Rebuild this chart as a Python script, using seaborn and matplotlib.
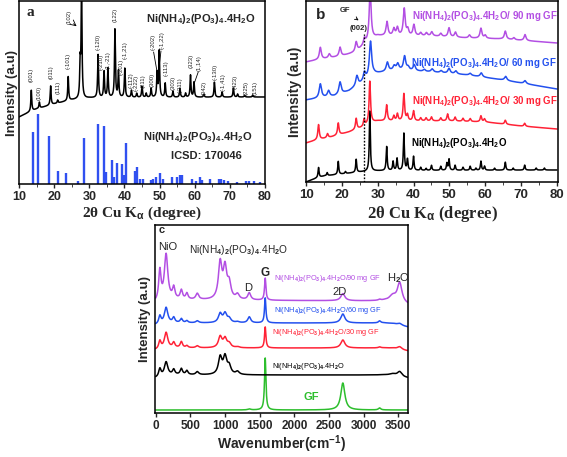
import numpy as np
import matplotlib
matplotlib.use("Agg")
import matplotlib.pyplot as plt
import seaborn as sns

# =====================================================
# DATA  (peak positions / heights)
# =====================================================

# ---- panel a : measured XRD pattern
a_base_x = [10, 13, 15, 18, 20, 25, 30, 40, 80]
a_base_y = [67, 72, 75, 78, 80, 84, 86, 86.5, 87]
a_pos = [13.5, 15.8, 19.0, 21.0, 24.0, 27.4, 27.8, 32.5, 34.2, 35.3, 37.3, 38.3, 40.1,
         42.0, 43.5, 45.0, 46.2, 47.6, 49.3, 49.9, 51.6, 53.8, 55.8, 57.4, 58.8, 59.8,
         62.6, 65.6, 67.8, 71.0, 72.2, 74.2, 76.5]
a_hgt = [21, 6, 19, 3, 24, 33, 110, 43, 26, 29, 68, 26, 29,
         7, 4, 11, 4, 9, 24, 46, 14, 6, 9, 4, 22, 15,
         3, 15, 5, 9, 3, 2, 2]

# ---- panel a : ICSD 170046 sticks
icsd_pos = [13.9, 15.5, 18.5, 21.2, 23.4, 26.9, 28.6, 32.6, 34.3, 34.7, 36.4, 37.0, 37.8,
            39.4, 39.8, 40.4, 43.0, 43.7, 44.5, 45.3, 47.5, 48.2, 49.0, 50.1, 51.0, 53.5,
            55.0, 55.8, 56.3, 59.2, 60.5, 61.5, 62.0, 64.3, 66.8, 67.4, 68.2, 69.5, 72.0,
            74.5, 75.5, 77.0, 78.5]
icsd_hgt = [52, 70, 48, 13, 11, 3, 46, 60, 58, 12, 24, 7, 21,
            20, 9, 41, 13, 17, 5, 5, 4, 5, 7, 11, 5, 7,
            7, 9, 9, 5, 3, 7, 4, 5, 5, 5, 4, 3, 2,
            3, 3, 3, 2]

hkl_text = ["(001)", "(100)", "(011)", "(111)", "(-101)", "(-120)", "(-210)", "(1,-21)",
            "(122)", "(-201)", "(-1,21)", "(-112)", "(-222)", "(211)", "(300)", "(-113)",
            "(303)", "(-311)", "(323)", "(042)", "(-130)", "(-1,41)", "(423)", "(225)", "(151)"]
hkl_x = [13.5, 15.8, 19.0, 21.0, 24.0, 32.5, 33.4, 35.4, 37.3, 39.0, 40.3, 41.9, 43.3,
         45.3, 47.8, 51.8, 53.9, 55.8, 58.9, 62.7, 65.8, 68.1, 71.5, 74.6, 77.2]
hkl_y = [109, 91, 112, 97, 123, 142, 122, 124, 169, 117, 134, 104, 101,
         103, 104, 116, 101, 99, 123, 96, 112, 102, 102, 96, 96]

# ---- panel b : XRD with graphene foam
b_black_base_x = [10, 13, 15, 20, 25, 28, 35, 80]
b_black_base_y = [0, 4, 6, 8, 10, 11, 11.5, 12]
b_black_pos = [13.5, 15.9, 19.0, 21.0, 24.0, 27.8, 32.5, 34.3, 35.4, 37.3, 38.3, 40.0,
               42.0, 43.5, 45.0, 47.6, 49.3, 49.9, 51.6, 53.8, 55.8, 57.4, 58.8, 59.8,
               62.6, 65.6, 67.8, 71.0, 74.2, 76.5]
b_black_hgt = [10, 3, 13, 2, 13, 60, 24, 9, 12, 37, 11, 14,
               3, 2, 5, 4, 7, 11, 5, 3, 4, 2, 9, 4,
               2, 8, 2, 5, 2, 2]

b_red_base_x = [10, 13, 17, 22, 26, 28, 30, 50, 60, 70, 80]
b_red_base_y = [39, 42, 45, 50, 55, 59, 61, 61, 60, 56, 53]
b_red_pos = [13.5, 16.0, 19.0, 24.0, 26.2, 27.8, 32.5, 34.5, 35.5, 37.3, 38.3, 40.0,
             42.0, 43.5, 45.0, 47.6, 49.5, 51.6, 53.8, 55.8, 58.8, 59.8, 65.6, 71.0]
b_red_hgt = [15, 4, 12, 11, 7, 42, 16, 5, 7, 27, 6, 10,
             3, 3, 4, 3, 7, 4, 3, 3, 6, 3, 4, 3]

b_blue_base_x = [10, 14, 18, 22, 26, 29, 35, 45, 55, 65, 80]
b_blue_base_y = [82, 84, 86, 91, 100, 108, 112, 110, 107, 102, 93]
b_blue_pos = [14.0, 16.3, 19.5, 24.2, 26.3, 28.0, 32.7, 34.6, 35.6, 37.5, 38.5, 40.2,
              43.0, 45.2, 47.7, 49.9, 51.8, 55.8, 58.9, 65.7, 71.1]
b_blue_hgt = [14, 6, 12, 10, 8, 35, 9, 4, 6, 14, 3, 6,
              2, 3, 2, 5, 3, 2, 4, 4, 3]

b_purple_base_x = [10, 13, 20, 24, 28, 30, 45, 55, 65, 80]
b_purple_base_y = [120, 122, 126, 130, 142, 146, 146, 144, 143, 139]
b_purple_pos = [14.0, 16.5, 19.5, 24.0, 26.3, 27.9, 32.6, 34.5, 35.5, 37.4, 38.4, 40.1,
                42.0, 43.6, 45.1, 47.6, 49.9, 51.7, 55.6, 58.8, 60.0, 65.6, 68.0, 71.1]
b_purple_hgt = [12, 4, 9, 10, 6, 50, 14, 7, 8, 27, 6, 11,
                3, 3, 4, 3, 9, 5, 3, 10, 3, 8, 2, 6]

# ---- panel c : Raman spectra
raman_pos = [60, 150, 260, 370, 450, 600, 930, 1000, 1060, 1180, 1350, 1580, 2700, 3230, 3420, 3520]
raman_wid = [20, 30, 20, 20, 20, 25, 30, 30, 30, 30, 25, 12, 35, 20, 60, 40]
gf_hgt = [0, 0, 0, 0, 0, 0, 0, 0, 0, 0, 1, 52, 27, 2, 0, 0]
pure_hgt = [8, 14, 5, 6, 4, 3, 17, 17, 8, 3, 0, 0, 0, 0, 2, 5]
gf30_hgt = [8, 16, 5, 6, 2, 2, 11, 9, 4, 1, 0, 21, 8, 1, 1, 3]
gf60_hgt = [8, 16, 5, 4, 2, 2, 9, 9, 4, 1, 6, 25, 9, 2, 1, 2]
gf90_hgt = [30, 46, 11, 9, 6, 6, 36, 30, 15, 5, 7, 22, 7, 1, 6, 20]
gf_base = [3, 3, 3, 3]
pure_base = [35, 38, 38, 35]
gf30_base = [63, 65, 65, 62]
gf60_base = [88, 90, 90, 86]
gf90_base = [110, 113, 112, 108]
raman_base_x = [0, 250, 3300, 3640]

PURPLE = "#B34FE3"
BLUE = "#2350EE"
RED = "#FF2236"
GREEN = "#2DBE2D"
STICK = "#3050F0"


def spectrum(grid, base_x, base_y, pos, hgt, wid):
    y = np.interp(grid, base_x, base_y)
    wid = np.broadcast_to(wid, len(pos))
    for p, h, w in zip(pos, hgt, wid):
        y = y + h / (1 + ((grid - p) / w) ** 2)
    return y


def draw(ax, grid, y, color, lw=1.1):
    sns.lineplot(x=grid, y=y, ax=ax, color=color, linewidth=lw,
                 estimator=None, sort=False)


# =====================================================
# STYLE
# =====================================================
sns.set_style("ticks")
plt.rcParams["font.family"] = ["Liberation Sans", "DejaVu Sans"]
plt.rcParams["mathtext.fontset"] = "custom"
plt.rcParams["mathtext.rm"] = "Liberation Sans:bold"
plt.rcParams["mathtext.it"] = "Liberation Sans:italic:bold"
plt.rcParams["mathtext.bf"] = "Liberation Sans:bold"
plt.rcParams["mathtext.default"] = "rm"

FORMULA = r"Ni(NH$_4$)$_2$(PO$_3$)$_4$.4H$_2$O"

W, H = 567, 457
fig = plt.figure(figsize=(W / 100, H / 100), dpi=100)


def box(l, t, r, b):
    return fig.add_axes([l / W, 1 - b / H, (r - l) / W, (b - t) / H])


def frame(ax, size):
    for s in ax.spines.values():
        s.set_linewidth(1.1)
        s.set_color("black")
    ax.set_yticks([])
    ax.tick_params(axis="x", direction="out", length=3, width=1, pad=2,
                   labelsize=size)
    for t in ax.get_xticklabels():
        t.set_fontweight("bold")


# =====================================================
# PANEL a
# =====================================================
ax_a = box(19, 1, 265, 184)
grid_a = np.linspace(10, 80, 5000)
draw(ax_a, grid_a, spectrum(grid_a, a_base_x, a_base_y, a_pos, a_hgt, 0.15), "black", 1.1)
ax_a.vlines(icsd_pos, 0, icsd_hgt, color=STICK, linewidth=1.7)
ax_a.set_xlim(10, 80)
ax_a.set_ylim(0, 183)
ax_a.set_xticks(range(10, 81, 10))
ax_a.set_xticks(range(15, 80, 10), minor=True)
ax_a.tick_params(axis="x", which="minor", direction="out", length=2)
frame(ax_a, 9)
ax_a.set_xlabel(r"2θ Cu K$_α$ (degree)", family="Liberation Serif", fontweight="bold",
                fontsize=11, labelpad=1)
ax_a.set_ylabel("Intensity (a.u)", fontweight="bold", fontsize=9.5, labelpad=1)

for txt, x, y in zip(hkl_text, hkl_x, hkl_y):
    ax_a.text(x, y, txt, rotation=90, fontsize=4.3, ha="center", va="center")
ax_a.text(24.2, 167, "(102)", rotation=90, fontsize=4.3, ha="center", va="center")
ax_a.annotate("", xy=(27.0, 156), xytext=(24.9, 162),
              arrowprops=dict(arrowstyle="->", lw=0.6, color="black"))
ax_a.text(48.2, 142, "(-202)", rotation=90, fontsize=4.3, ha="center", va="center")
ax_a.plot([48.3, 49.3], [132, 112], color="black", lw=0.6)
ax_a.text(50.6, 144, "(-1,22)", rotation=90, fontsize=4.3, ha="center", va="center")
ax_a.plot([50.4, 49.9], [133, 118], color="black", lw=0.6)
ax_a.text(61.3, 121, "(1,14)", rotation=90, fontsize=4.3, ha="center", va="center")
ax_a.plot([61.0, 60.0], [112, 102], color="black", lw=0.6)

ax_a.text(0.96, 0.90, FORMULA, transform=ax_a.transAxes, ha="right", va="center",
          fontsize=8, fontweight="bold")
ax_a.text(0.725, 0.255, FORMULA, transform=ax_a.transAxes, ha="center", va="center",
          fontsize=8, fontweight="bold")
ax_a.text(0.76, 0.155, "ICSD: 170046", transform=ax_a.transAxes, ha="center",
          va="center", fontsize=8, fontweight="bold")
ax_a.text(0.03, 0.935, "a", transform=ax_a.transAxes, family="Liberation Serif",
          fontweight="bold", fontsize=11, ha="left", va="center")

# =====================================================
# PANEL b
# =====================================================
ax_b = box(306, 1, 558, 182)
grid_b = np.linspace(10, 80, 5000)
draw(ax_b, grid_b, spectrum(grid_b, b_black_base_x, b_black_base_y, b_black_pos, b_black_hgt, 0.17), "black")
draw(ax_b, grid_b, spectrum(grid_b, b_red_base_x, b_red_base_y, b_red_pos, b_red_hgt, 0.24), RED)
draw(ax_b, grid_b, spectrum(grid_b, b_blue_base_x, b_blue_base_y, b_blue_pos, b_blue_hgt, 0.38), BLUE)
draw(ax_b, grid_b, spectrum(grid_b, b_purple_base_x, b_purple_base_y, b_purple_pos, b_purple_hgt, 0.32), PURPLE)
ax_b.axvline(26.2, ymin=0, ymax=0.82, color="black", linestyle=(0, (1.2, 1.2)), lw=1.0)
ax_b.set_xlim(10, 80.3)
ax_b.set_ylim(0, 181)
ax_b.set_xticks(range(10, 81, 10))
ax_b.set_xticks(range(15, 80, 10), minor=True)
ax_b.tick_params(axis="x", which="minor", direction="out", length=2)
frame(ax_b, 9.5)
ax_b.set_xlabel(r"2θ Cu K$_α$ (degree)", family="Liberation Serif", fontweight="bold",
                fontsize=12, labelpad=2)
ax_b.set_ylabel("Intensity (a.u)", fontweight="bold", fontsize=10, labelpad=3)
ax_b.text(0.04, 0.925, "b", transform=ax_b.transAxes, fontweight="bold", fontsize=11,
          ha="left", va="center")
ax_b.text(24.6, 153, "(002)", fontsize=5.5, fontweight="bold", ha="center", va="center")
ax_b.annotate("GF", xy=(25.3, 160), xytext=(21.0, 171), fontsize=5.5, fontweight="bold",
              ha="center", va="center",
              arrowprops=dict(arrowstyle="->", lw=0.6, color="black"))
ax_b.text(0.42, 0.915, FORMULA + "/ 90 mg GF", transform=ax_b.transAxes, color=PURPLE,
          fontsize=7, fontweight="bold", ha="left", va="center")
ax_b.text(0.417, 0.66, FORMULA + "/ 60 mg GF", transform=ax_b.transAxes, color=BLUE,
          fontsize=7, fontweight="bold", ha="left", va="center")
ax_b.text(0.42, 0.45, FORMULA + "/ 30 mg GF", transform=ax_b.transAxes, color=RED,
          fontsize=7, fontweight="bold", ha="left", va="center")
ax_b.text(0.417, 0.215, FORMULA, transform=ax_b.transAxes, color="black",
          fontsize=7, fontweight="bold", ha="left", va="center")

# =====================================================
# PANEL c
# =====================================================
ax_c = box(155, 225, 408, 413)
grid_c = np.linspace(0, 3640, 6000)
draw(ax_c, grid_c, spectrum(grid_c, raman_base_x, gf_base, raman_pos, gf_hgt, raman_wid), GREEN)
draw(ax_c, grid_c, spectrum(grid_c, raman_base_x, pure_base, raman_pos, pure_hgt, raman_wid), "black")
draw(ax_c, grid_c, spectrum(grid_c, raman_base_x, gf30_base, raman_pos, gf30_hgt, raman_wid), RED)
draw(ax_c, grid_c, spectrum(grid_c, raman_base_x, gf60_base, raman_pos, gf60_hgt, raman_wid), BLUE)
draw(ax_c, grid_c, spectrum(grid_c, raman_base_x, gf90_base, raman_pos, gf90_hgt, raman_wid), PURPLE)
ax_c.set_xlim(-10, 3640)
ax_c.set_ylim(0, 188)
ax_c.set_xticks(range(0, 3501, 500))
frame(ax_c, 8.5)
ax_c.set_xlabel(r"Wavenumber(cm$^{-1}$)", fontweight="bold", fontsize=10, labelpad=1)
ax_c.set_ylabel("Intensity (a.u)", fontweight="bold", fontsize=9.5, labelpad=3)
ax_c.text(0.015, 0.975, "c", transform=ax_c.transAxes, fontweight="bold", fontsize=8,
          ha="left", va="center")
ax_c.text(170, 166, "NiO", fontsize=8, ha="center", va="center")
ax_c.text(1200, 163, FORMULA, fontsize=7.3, ha="center", va="center")
ax_c.text(1340, 125, "D", fontsize=8, ha="center", va="center")
ax_c.text(1580, 140, "G", fontsize=8.5, fontweight="bold", ha="center", va="center")
ax_c.text(2650, 121, "2D", fontsize=8, ha="center", va="center")
ax_c.text(3500, 135, r"H$_2$O", fontsize=8, ha="center", va="center")
ax_c.text(1700, 135, FORMULA + "/90 mg GF", color=PURPLE, fontsize=5.3, ha="left", va="center")
ax_c.text(1700, 103, FORMULA + "/60 mg GF", color=BLUE, fontsize=5.3, ha="left", va="center")
ax_c.text(1680, 80, FORMULA + "/30 mg GF", color=RED, fontsize=5.3, ha="left", va="center")
ax_c.text(1680, 46, FORMULA, color="black", fontsize=5.3, ha="left", va="center")
ax_c.text(2130, 16, "GF", color=GREEN, fontsize=8, fontweight="bold", ha="left", va="center")

fig.savefig("out.png", dpi=100)
